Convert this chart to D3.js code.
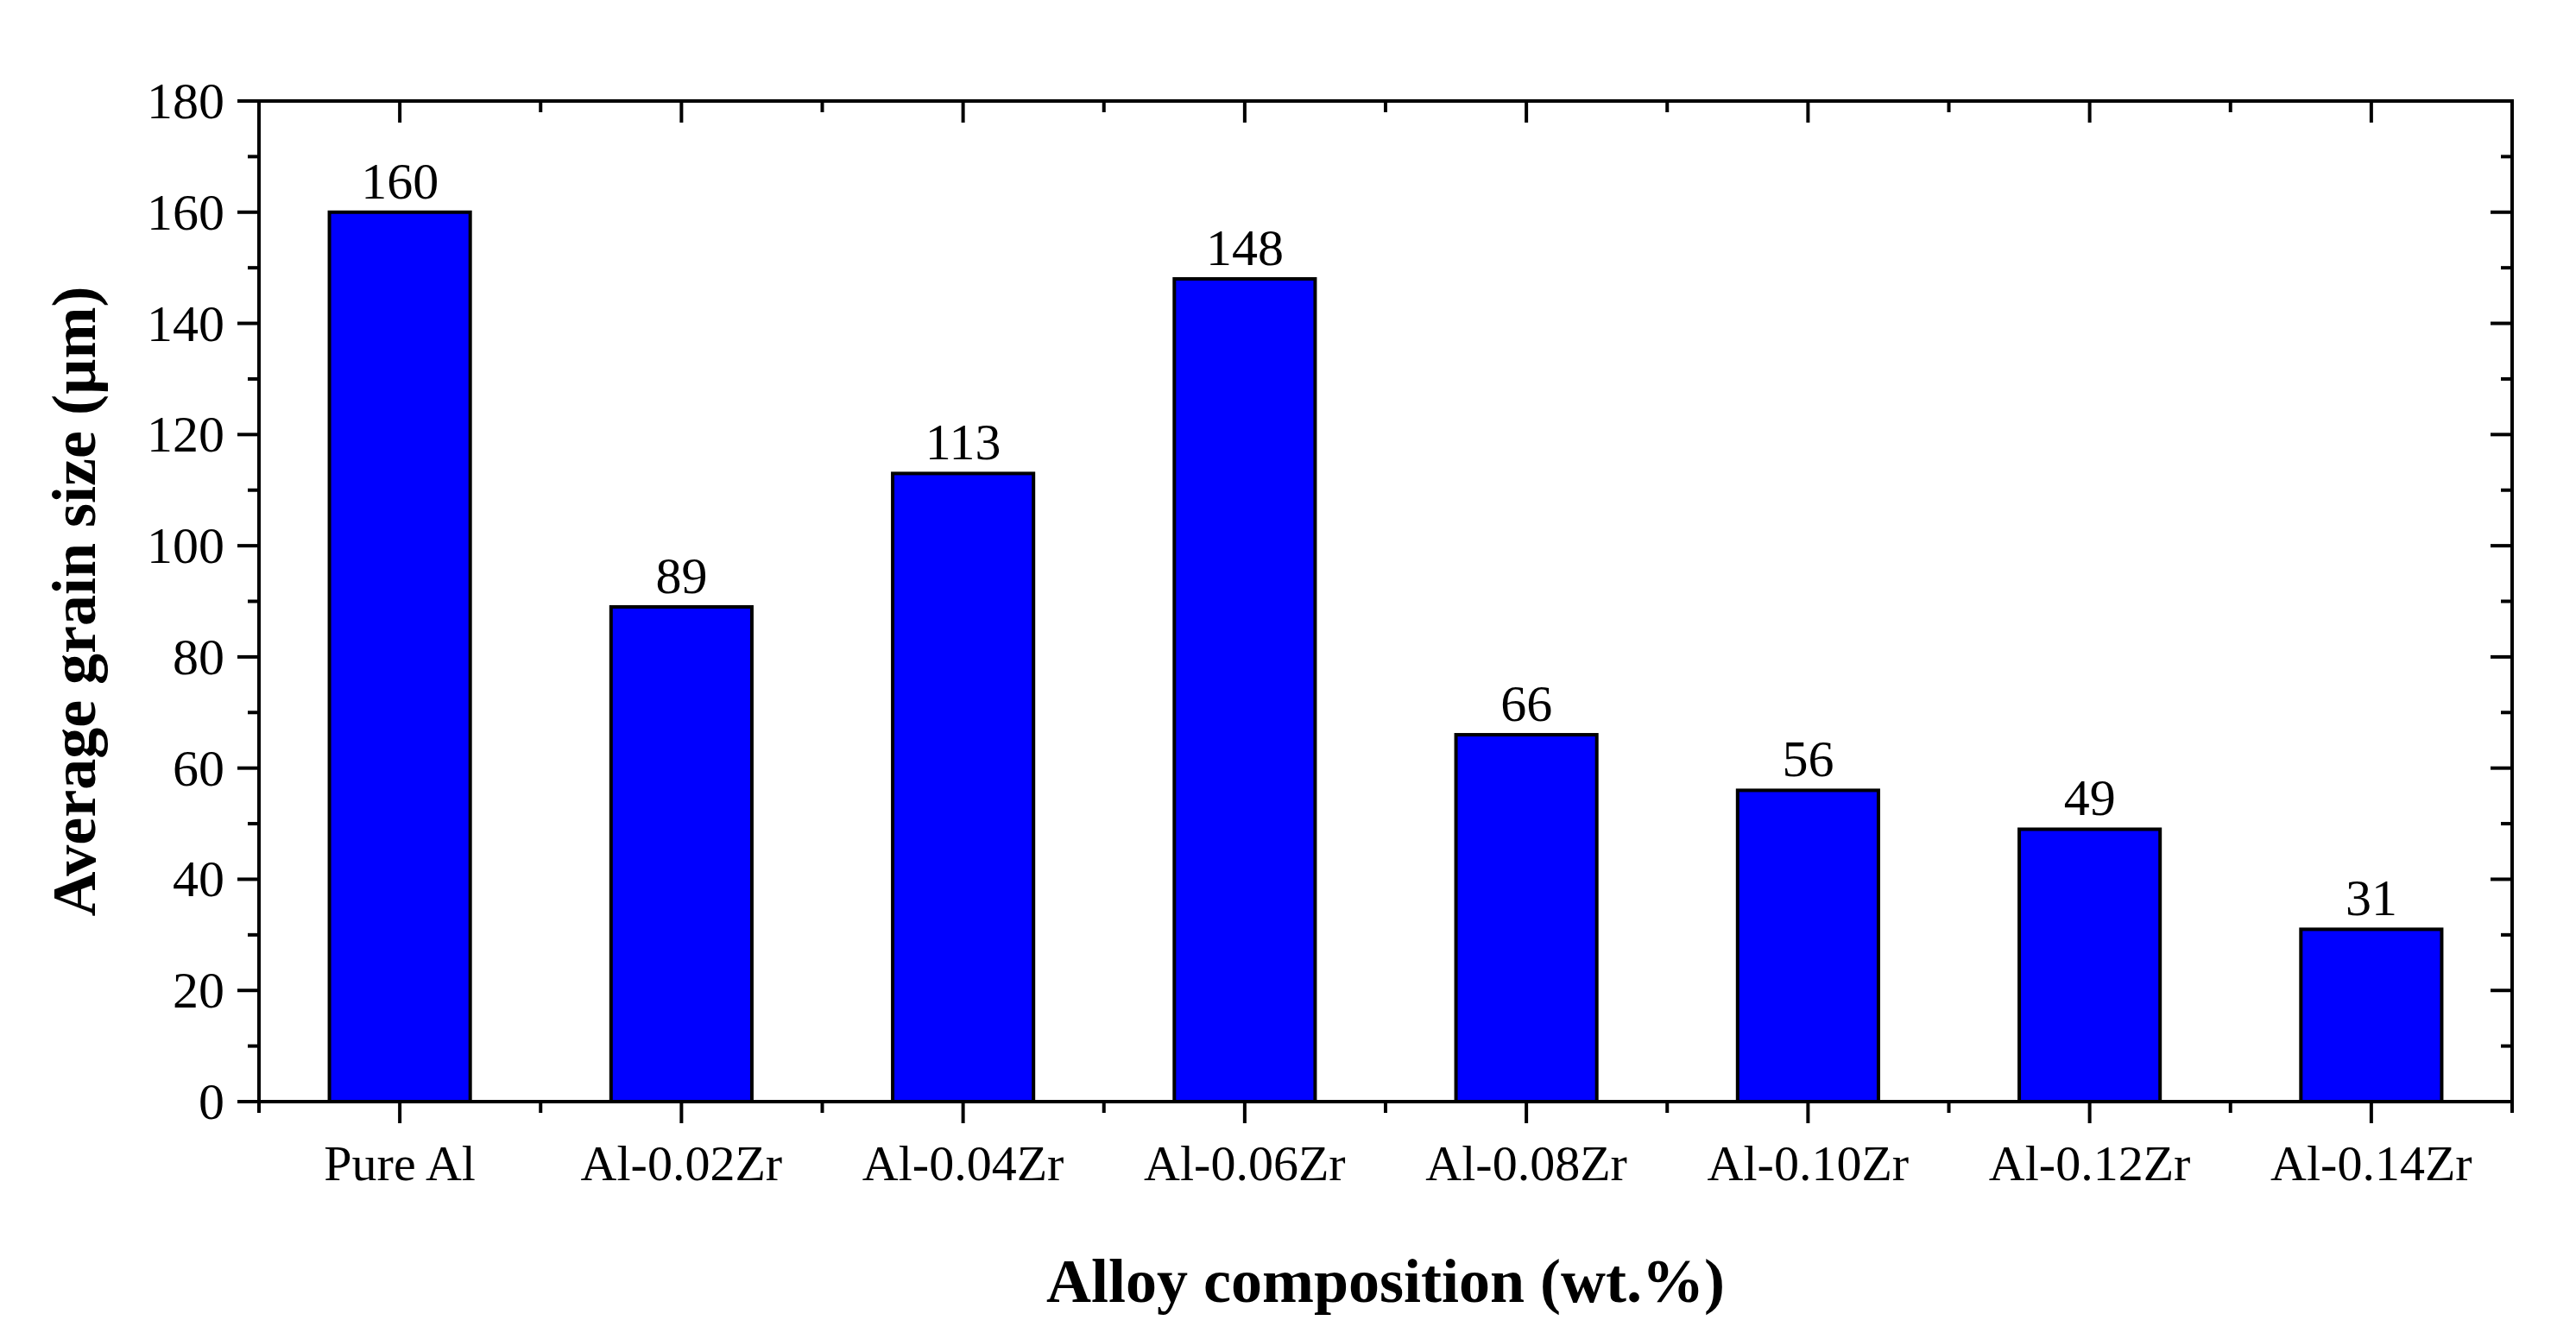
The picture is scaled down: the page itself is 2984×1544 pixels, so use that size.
<!DOCTYPE html><html><head><script src="https://cdn.jsdelivr.net/npm/d3@7"></script>
<style>body{margin:0;background:#fff}</style></head><body><svg id="c" width="2984" height="1544"></svg>
<script>
const categories=["Pure Al","Al-0.02Zr","Al-0.04Zr","Al-0.06Zr","Al-0.08Zr","Al-0.10Zr","Al-0.12Zr","Al-0.14Zr"];
const values=[160,89,113,148,66,56,49,31];
const yTicks=[0,20,40,60,80,100,120,140,160,180];
const svg=d3.select("#c");
const L=300,R=2910,T=117,B=1276;
const F="'Liberation Serif','Times New Roman',serif";
const x=d3.scaleBand().domain(categories).range([L,R]).paddingInner(0.5).paddingOuter(0.25);
const y=d3.scaleLinear().domain([0,180]).range([B,T]);
const minorY=d3.range(10,180,20);
const bounds=categories.slice(1).map(c=>x(c)-x.step()*x.paddingInner()/2);
bounds.unshift(L);bounds.push(R);
svg.selectAll("rect.bar").data(values).join("rect").attr("x",(d,i)=>x(categories[i])).attr("y",d=>y(d))
 .attr("width",x.bandwidth()).attr("height",d=>B-y(d)).attr("fill","#0000ff").attr("stroke","#000").attr("stroke-width",4);
svg.selectAll("text.v").data(values).join("text").attr("x",(d,i)=>x(categories[i])+x.bandwidth()/2).attr("y",d=>y(d)-16)
 .attr("text-anchor","middle").attr("font-family",F).attr("font-size",60).text(d=>d);
const g=svg.append("g").attr("stroke","#000").attr("stroke-width",4);
g.append("rect").attr("x",L).attr("y",T).attr("width",R-L).attr("height",B-T).attr("fill","none");
// y ticks
yTicks.forEach(v=>{g.append("line").attr("x1",L-25).attr("x2",L).attr("y1",y(v)).attr("y2",y(v));
 g.append("line").attr("x1",R-25).attr("x2",R).attr("y1",y(v)).attr("y2",y(v));});
minorY.forEach(v=>{g.append("line").attr("x1",L-13).attr("x2",L).attr("y1",y(v)).attr("y2",y(v));
 g.append("line").attr("x1",R-13).attr("x2",R).attr("y1",y(v)).attr("y2",y(v));});
categories.forEach(c=>{const cx=x(c)+x.bandwidth()/2;
 g.append("line").attr("x1",cx).attr("x2",cx).attr("y1",B).attr("y2",B+25);
 g.append("line").attr("x1",cx).attr("x2",cx).attr("y1",T).attr("y2",T+25);});
bounds.forEach(bx=>{g.append("line").attr("x1",bx).attr("x2",bx).attr("y1",B).attr("y2",B+13);
 g.append("line").attr("x1",bx).attr("x2",bx).attr("y1",T).attr("y2",T+13);});
svg.selectAll("text.yt").data(yTicks).join("text").attr("x",L-40).attr("y",v=>y(v)+20).attr("text-anchor","end")
 .attr("font-family",F).attr("font-size",60).text(d=>d);
svg.selectAll("text.xt").data(categories).join("text").attr("x",c=>x(c)+x.bandwidth()/2).attr("y",1367).attr("text-anchor","middle")
 .attr("font-family",F).attr("font-size",58).text(d=>d);
svg.append("text").attr("x",(L+R)/2).attr("y",1508).attr("text-anchor","middle").attr("font-family",F).attr("font-weight","bold")
 .attr("font-size",72).text("Alloy composition (wt.%)");
svg.append("text").attr("transform",`translate(110,${(T+B)/2}) rotate(-90)`).attr("text-anchor","middle").attr("font-family",F)
 .attr("font-weight","bold").attr("font-size",72).text("Average grain size (µm)");
</script></body></html>
